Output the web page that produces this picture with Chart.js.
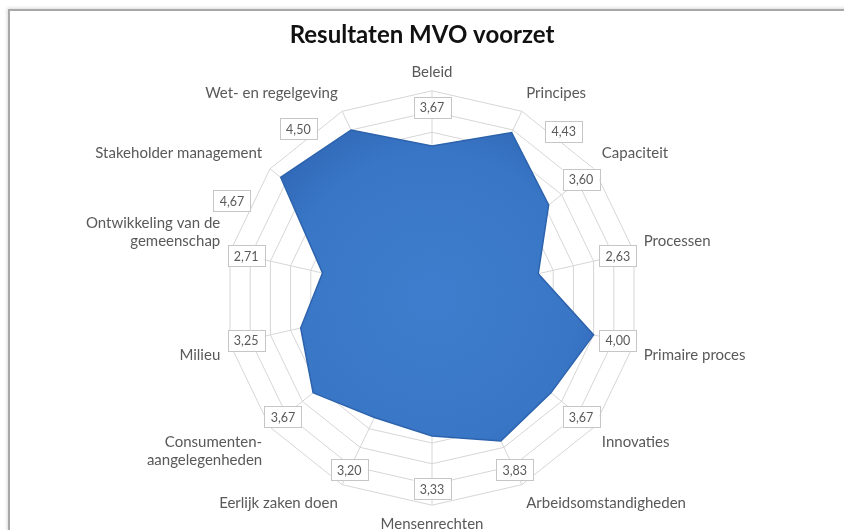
<!DOCTYPE html>
<html>
<head>
<meta charset="utf-8">
<script src="https://cdn.jsdelivr.net/npm/chart.js@4"></script>
<style>
  body { margin: 0; background: #fff; }
  #wrap { position: relative; width: 844px; height: 530px; overflow: hidden; background: #fff; }
  #frame { position: absolute; left: 8px; top: 9px; width: 900px; height: 600px; border: 2px solid #a8a8a8; box-shadow: -1px -1px 3px rgba(0,0,0,0.15); }
  #mvoChart { position: absolute; left: 0; top: 0; }
</style>
</head>
<body>
<div id="wrap">
  <div id="frame"></div>
  <canvas id="mvoChart" width="844" height="534"></canvas>
</div>
<script>
// categorieen en scores
const categories = [
  'Beleid', 'Principes', 'Capaciteit', 'Processen', 'Primaire proces', 'Innovaties',
  'Arbeidsomstandigheden', 'Mensenrechten', 'Eerlijk zaken doen',
  ['Consumenten-', 'aangelegenheden'], 'Milieu', ['Ontwikkeling van de', 'gemeenschap'],
  'Stakeholder management', 'Wet- en regelgeving'
];
const scores = [3.67, 4.43, 3.60, 2.63, 4.00, 3.67, 3.83, 3.33, 3.20, 3.67, 3.25, 2.71, 4.67, 4.50];
const scaleMin = 0;
const scaleMax = 5;
const scaleStep = 0.5;

// waarde-labels in witte kaders
const valueBoxes = {
  id: 'valueBoxes',
  afterDatasetsDraw(chart) {
    const ctx = chart.ctx;
    const r = chart.scales.r;
    ctx.save();
    ctx.font = '12.5px Lato, "Open Sans", sans-serif';
    ctx.textAlign = 'center';
    ctx.textBaseline = 'middle';
    scores.forEach((v, i) => {
      let p;
      if (v > 4.3) {
        // hoge scores: kader buiten de rand, iets naar opzij gedraaid
        const side = Math.sin(r.getIndexAngle(i)) > 0 ? 1 : -1;
        p = r.getPointPosition(i, r.getDistanceFromCenterForValue(v + 0.7), side * 0.22);
      } else {
        p = r.getPointPosition(i, r.getDistanceFromCenterForValue(4.6));
      }
      const w = 37, h = 21;
      ctx.fillStyle = '#ffffff';
      ctx.fillRect(p.x - w / 2, p.y - h / 2, w, h);
      ctx.strokeStyle = '#c6c6c6';
      ctx.lineWidth = 1;
      ctx.strokeRect(Math.round(p.x - w / 2) + 0.5, Math.round(p.y - h / 2) + 0.5, w, h);
      ctx.fillStyle = '#595959';
      ctx.fillText(v.toFixed(2).replace('.', ','), p.x, p.y + 1);
    });
    ctx.restore();
  }
};

function areaFill(context) {
  const r = context.chart.scales.r;
  if (!r || !Number.isFinite(r.xCenter) || !Number.isFinite(r.yCenter) || !(r.drawingArea > 0)) return '#3a78c8';
  const g = context.chart.ctx.createRadialGradient(r.xCenter, r.yCenter, 0, r.xCenter, r.yCenter, r.drawingArea);
  g.addColorStop(0, '#3e7dcd');
  g.addColorStop(0.7, '#3976c6');
  g.addColorStop(1, '#2e66b3');
  return g;
}

const ctx = document.getElementById('mvoChart').getContext('2d');
new Chart(ctx, {
  type: 'radar',
  data: {
    labels: categories,
    datasets: [{
      label: 'Resultaten',
      data: scores,
      backgroundColor: areaFill,
      borderColor: '#2d63ad',
      borderWidth: 1.5,
      pointRadius: 0,
      fill: true
    }]
  },
  options: {
    responsive: false,
    animation: false,
    plugins: {
      legend: { display: false },
      tooltip: { enabled: false },
      title: {
        display: true,
        text: 'Resultaten MVO voorzet',
        color: '#111',
        font: { family: 'Lato, "Open Sans", sans-serif', size: 24, weight: 'bold' },
        padding: { top: 21, bottom: 13 }
      }
    },
    scales: {
      r: {
        min: scaleMin,
        max: scaleMax,
        afterSetDimensions(scale) { scale.xCenter += 10; },
        ticks: { display: false, stepSize: scaleStep },
        grid: { color: '#d6d6d6', lineWidth: 1 },
        angleLines: { color: '#d6d6d6', lineWidth: 1 },
        pointLabels: {
          color: '#595959',
          padding: 10,
          font: { family: 'Lato, "Open Sans", sans-serif', size: 15 }
        }
      }
    }
  },
  plugins: [valueBoxes]
});
</script>
</body>
</html>
